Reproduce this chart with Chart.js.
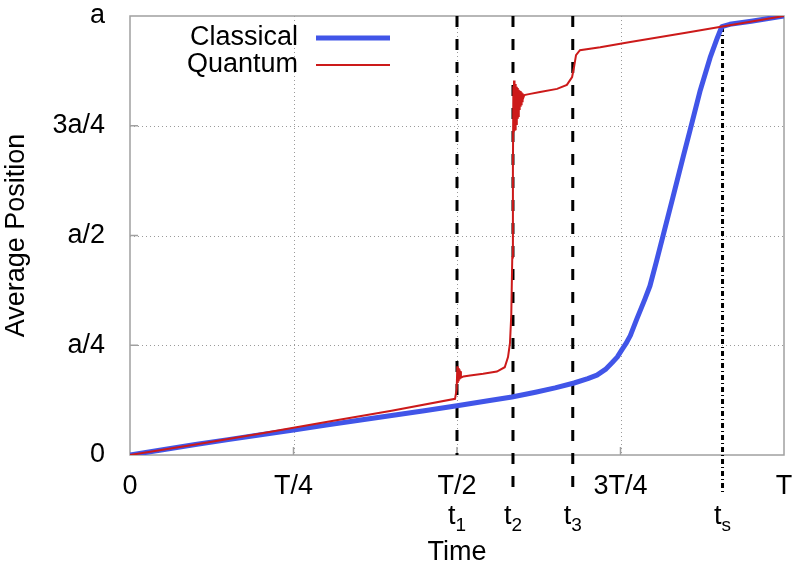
<!DOCTYPE html>
<html>
<head>
<meta charset="utf-8">
<script src="https://cdn.jsdelivr.net/npm/chart.js@4/dist/chart.umd.min.js"></script>
<style>
  html, body { margin: 0; padding: 0; background: #fff; }
</style>
</head>
<body>
<canvas id="chart" width="793" height="569"></canvas>
<script>
// tick labels (x in units of T, y in units of a)
const xTickLabels = ["0", "T/4", "T/2", "3T/4", "T"];
const yTickLabels = ["0", "a/4", "a/2", "3a/4", "a"];

// marked times
const markerTimes = [0.5, 0.5856, 0.677, 0.906];
const markerSubs = ["1", "2", "3", "s"];

// classical average position
const classicalX = [0, 0.05, 0.10, 0.15, 0.20, 0.25, 0.30, 0.35, 0.40, 0.45, 0.50, 0.55, 0.584, 0.62, 0.65, 0.679, 0.70, 0.714, 0.727, 0.737, 0.745, 0.751, 0.758, 0.765, 0.775, 0.787, 0.795, 0.805, 0.815, 0.830, 0.846, 0.856, 0.872, 0.887, 0.898, 0.905, 0.917, 0.95, 1.0];
const classicalY = [0, 0.012, 0.024, 0.035, 0.046, 0.057, 0.068, 0.079, 0.090, 0.101, 0.112, 0.124, 0.132, 0.143, 0.153, 0.164, 0.174, 0.182, 0.195, 0.210, 0.223, 0.237, 0.253, 0.272, 0.310, 0.354, 0.385, 0.441, 0.499, 0.586, 0.680, 0.738, 0.831, 0.905, 0.950, 0.976, 0.981, 0.988, 1.0];

// quantum average position
const quantumX = [0, 0.1, 0.2, 0.25, 0.3, 0.4, 0.497, 0.4995, 0.5005, 0.5012, 0.5019, 0.5026, 0.5033, 0.504, 0.5047, 0.506, 0.51, 0.52, 0.54, 0.561, 0.573, 0.578, 0.581, 0.583, 0.5845, 0.5855, 0.5862, 0.5867, 0.5872, 0.5877, 0.5882, 0.5887, 0.5892, 0.5897, 0.5902, 0.5907, 0.5912, 0.5917, 0.5922, 0.5927, 0.5932, 0.5937, 0.5942, 0.5947, 0.5952, 0.5958, 0.5964, 0.597, 0.5976, 0.5982, 0.5988, 0.5995, 0.6003, 0.601, 0.603, 0.61, 0.627, 0.653, 0.668, 0.676, 0.679, 0.682, 0.688, 0.719, 0.765, 0.85, 0.917, 1.0];
const quantumY = [0, 0.024, 0.049, 0.062, 0.075, 0.101, 0.128, 0.15, 0.202, 0.164, 0.198, 0.168, 0.195, 0.172, 0.191, 0.176, 0.179, 0.181, 0.185, 0.190, 0.200, 0.223, 0.255, 0.32, 0.45, 0.65, 0.84, 0.735, 0.853, 0.738, 0.848, 0.742, 0.845, 0.748, 0.842, 0.754, 0.839, 0.76, 0.836, 0.766, 0.834, 0.772, 0.832, 0.779, 0.830, 0.786, 0.829, 0.793, 0.827, 0.799, 0.826, 0.806, 0.824, 0.812, 0.82, 0.822, 0.827, 0.834, 0.843, 0.861, 0.884, 0.911, 0.922, 0.929, 0.941, 0.962, 0.979, 1.0];

const FONT = "'Liberation Sans', Arial, Helvetica, sans-serif";
const BLUE = "#4155e8";
const RED = "#cc1a1a";

const toPoints = (xs, ys) => xs.map((x, i) => ({ x: x, y: ys[i] }));

// frame, dotted grid, inward ticks and the marker lines
const framePlugin = {
  id: "frame",
  beforeDatasetsDraw(chart) {
    const { ctx, chartArea: a, scales: { x, y } } = chart;
    ctx.save();
    ctx.strokeStyle = "#9a9a9a";
    ctx.lineWidth = 1;
    ctx.setLineDash([1, 3]);
    [0.25, 0.5, 0.75].forEach(v => {
      const px = Math.round(x.getPixelForValue(v)) + 0.5;
      ctx.beginPath(); ctx.moveTo(px, a.top); ctx.lineTo(px, a.bottom); ctx.stroke();
      const py = Math.round(y.getPixelForValue(v)) + 0.5;
      ctx.beginPath(); ctx.moveTo(a.left, py); ctx.lineTo(a.right, py); ctx.stroke();
    });
    ctx.setLineDash([]);
    ctx.strokeStyle = "#a0a0a0";
    ctx.lineWidth = 1.5;
    [0.25, 0.5, 0.75].forEach(v => {
      const px = x.getPixelForValue(v);
      ctx.beginPath(); ctx.moveTo(px, a.bottom); ctx.lineTo(px, a.bottom - 8); ctx.stroke();
      const py = y.getPixelForValue(v);
      ctx.beginPath(); ctx.moveTo(a.left, py); ctx.lineTo(a.left + 8, py); ctx.stroke();
    });
    ctx.strokeRect(a.left, a.top, a.right - a.left, a.bottom - a.top);

    // vertical markers t1, t2, t3, ts
    ctx.strokeStyle = "#000";
    ctx.lineWidth = 3;
    markerTimes.forEach((t, i) => {
      const px = x.getPixelForValue(t);
      const top = i === 3 ? y.getPixelForValue(0.975) : a.top;
      const bottom = i === 0 ? a.bottom : a.bottom + 40;
      ctx.setLineDash(i === 3 ? [5, 3, 1, 3] : [11, 12]);
      ctx.beginPath(); ctx.moveTo(px, top); ctx.lineTo(px, bottom); ctx.stroke();
    });
    ctx.restore();
  },
  afterDraw(chart) {
    const { ctx, chartArea: a, scales: { x } } = chart;
    ctx.save();
    ctx.fillStyle = "#000";
    ctx.textBaseline = "alphabetic";
    // t labels with subscripts
    markerTimes.forEach((t, i) => {
      const px = x.getPixelForValue(t);
      ctx.font = "27px " + FONT;
      const wt = ctx.measureText("t").width;
      ctx.font = "19px " + FONT;
      const ws = ctx.measureText(markerSubs[i]).width;
      const x0 = px - (wt + ws) / 2;
      ctx.font = "27px " + FONT;
      ctx.textAlign = "left";
      ctx.fillText("t", x0, a.bottom + 69);
      ctx.font = "19px " + FONT;
      ctx.fillText(markerSubs[i], x0 + wt, a.bottom + 76);
    });
    // legend
    const ds = chart.data.datasets;
    const rows = [ds[1], ds[0]];
    ctx.font = "27px " + FONT;
    ctx.textAlign = "right";
    ctx.textBaseline = "middle";
    rows.forEach((d, i) => {
      const yy = 38 + i * 27;
      ctx.fillText(d.label, 298, yy);
      ctx.strokeStyle = d.borderColor;
      ctx.lineWidth = d.borderWidth;
      ctx.beginPath(); ctx.moveTo(316, yy); ctx.lineTo(390, yy); ctx.stroke();
    });
    ctx.restore();
  }
};

new Chart(document.getElementById("chart"), {
  type: "line",
  data: {
    datasets: [
      {
        label: "Quantum",
        data: toPoints(quantumX, quantumY),
        borderColor: RED,
        borderWidth: 2,
        pointRadius: 0,
        tension: 0,
        order: 1
      },
      {
        label: "Classical",
        data: toPoints(classicalX, classicalY),
        borderColor: BLUE,
        borderWidth: 5,
        pointRadius: 0,
        tension: 0,
        borderJoinStyle: "round",
        order: 2
      }
    ]
  },
  options: {
    responsive: false,
    animation: false,
    layout: { padding: { top: 16, right: 9, left: 0, bottom: 0 } },
    plugins: { legend: { display: false }, tooltip: { enabled: false } },
    scales: {
      x: {
        type: "linear",
        min: 0, max: 1,
        grid: { display: false },
        border: { display: false },
        ticks: {
          stepSize: 0.25,
          color: "#000",
          font: { family: FONT, size: 27 },
          padding: 7,
          maxRotation: 0,
          callback: (v, i) => xTickLabels[i]
        },
        title: { display: true, text: "Time", color: "#000", font: { family: FONT, size: 27 }, padding: { top: 0, bottom: 0 } },
        afterFit: s => { s.height = 114; s.paddingLeft = 0; s.paddingRight = 0; }
      },
      y: {
        type: "linear",
        min: 0, max: 1,
        grid: { display: false },
        border: { display: false },
        ticks: {
          stepSize: 0.25,
          color: "#000",
          font: { family: FONT, size: 27 },
          padding: 17,
          callback: (v, i) => yTickLabels[i]
        },
        title: { display: true, text: "Average Position", color: "#000", font: { family: FONT, size: 27 }, padding: { top: 0, bottom: 0 } },
        afterFit: s => { s.width = 130; s.paddingTop = 0; s.paddingBottom = 0; }
      }
    }
  },
  plugins: [framePlugin]
});
</script>
</body>
</html>
